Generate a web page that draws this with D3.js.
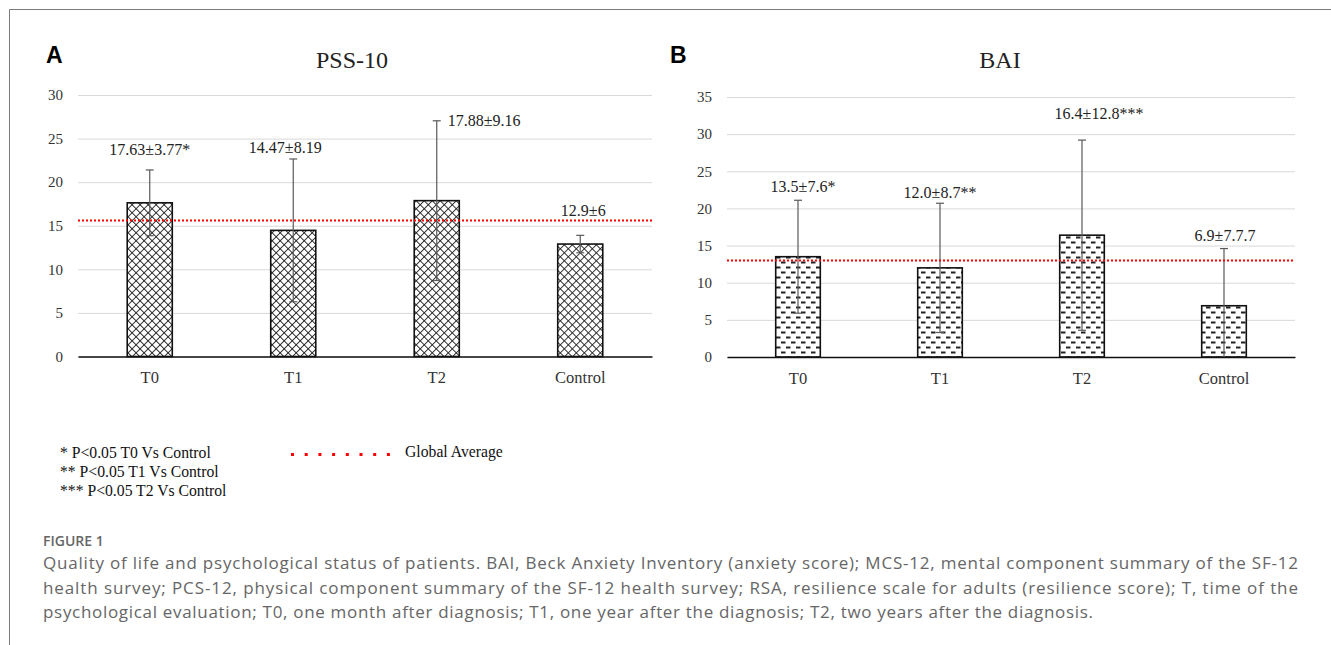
<!DOCTYPE html>
<html>
<head>
<meta charset="utf-8">
<script src="https://cdn.jsdelivr.net/npm/d3@7"></script>
<style>
  body { margin: 0; background: #fff; }
  svg { display: block; }
</style>
</head>
<body>
<svg id="fig" width="1331" height="645"></svg>
<script>
// données
var categories = ["T0", "T1", "T2", "Control"];

var pssMeans  = [17.63, 14.47, 17.88, 12.9];
var pssErrors = [3.77, 8.19, 9.16, 1.0];
var pssLabels = ["17.63±3.77*", "14.47±8.19", "17.88±9.16", "12.9±6"];
var pssAverage = 15.6;
var pssTicks = [0, 5, 10, 15, 20, 25, 30];

var baiMeans  = [13.5, 12.0, 16.4, 6.9];
var baiErrors = [7.6, 8.7, 12.8, 7.7];
var baiLabels = ["13.5±7.6*", "12.0±8.7**", "16.4±12.8***", "6.9±7.7.7"];
var baiAverage = 13.0;
var baiTicks = [0, 5, 10, 15, 20, 25, 30, 35];

var legendNotes = ["* P<0.05 T0 Vs Control", "** P<0.05 T1 Vs Control", "*** P<0.05 T2 Vs Control"];

var captionLines = [
  "Quality of life and psychological status of patients. BAI, Beck Anxiety Inventory (anxiety score); MCS-12, mental component summary of the SF-12",
  "health survey; PCS-12, physical component summary of the SF-12 health survey; RSA, resilience scale for adults (resilience score); T, time of the",
  "psychological evaluation; T0, one month after diagnosis; T1, one year after the diagnosis; T2, two years after the diagnosis."
];
var captionWidths = [1255, 1255, 1050];

var serif = "'Liberation Serif', 'Times New Roman', serif";
var svg = d3.select("#fig");

// cadre de la figure (haut + gauche)
svg.append("path")
  .attr("d", "M9.5,645 L9.5,9.5 L1331,9.5")
  .attr("fill", "none")
  .attr("stroke", "#7a7a7a")
  .attr("stroke-width", 1);

// motifs de remplissage
var defs = svg.append("defs");
var cross = defs.append("pattern")
  .attr("id", "crosshatch")
  .attr("patternUnits", "userSpaceOnUse")
  .attr("width", 5.66).attr("height", 5.66)
  .attr("patternTransform", "rotate(45)");
cross.append("rect").attr("width", 5.66).attr("height", 5.66).attr("fill", "#fff");
cross.append("path")
  .attr("d", "M0,0 L0,5.66 M0,0 L5.66,0")
  .attr("stroke", "#222").attr("stroke-width", 1.7);

var dash = defs.append("pattern")
  .attr("id", "dashes")
  .attr("patternUnits", "userSpaceOnUse")
  .attr("width", 10).attr("height", 10);
dash.append("rect").attr("width", 10).attr("height", 10).attr("fill", "#fff");
dash.append("rect").attr("x", 1).attr("y", 1.5).attr("width", 4.5).attr("height", 2).attr("fill", "#222");
dash.append("rect").attr("x", 6).attr("y", 6.5).attr("width", 4.5).attr("height", 2).attr("fill", "#222");
dash.append("rect").attr("x", -4).attr("y", 6.5).attr("width", 4.5).attr("height", 2).attr("fill", "#222");

function drawPanel(p) {
  var g = svg.append("g");

  var xScale = d3.scaleBand().domain(categories).range([p.left, p.right])
    .paddingInner(0.686).paddingOuter(0.343);
  var yScale = d3.scaleLinear().domain([0, d3.max(p.ticks)]).range([p.bottom, p.top]);

  // lettre du panneau et titre
  g.append("text")
    .attr("x", p.letterX).attr("y", 63)
    .style("font-family", "'Liberation Sans', Arial, sans-serif")
    .style("font-weight", "bold").style("font-size", "23px")
    .text(p.letter);
  g.append("text")
    .attr("x", (p.left + p.right) / 2 + p.titleDx).attr("y", 68)
    .attr("text-anchor", "middle")
    .style("font-family", serif).style("font-size", "24px").style("fill", "#222")
    .text(p.title);

  // axe des ordonnées + grille
  var yAxis = g.append("g")
    .attr("transform", "translate(" + p.left + ",0)")
    .call(d3.axisLeft(yScale).tickValues(p.ticks).tickSize(-(p.right - p.left)).tickPadding(15));
  yAxis.select(".domain").remove();
  yAxis.selectAll(".tick line").attr("stroke", "#d9d9d9").attr("stroke-width", 1);
  yAxis.selectAll(".tick text")
    .style("font-family", serif).style("font-size", "15px").style("fill", "#333");

  // barres
  g.selectAll("rect.bar")
    .data(p.means)
    .enter().append("rect")
    .attr("class", "bar")
    .attr("x", function (d, i) { return xScale(categories[i]); })
    .attr("y", function (d) { return yScale(d); })
    .attr("width", xScale.bandwidth())
    .attr("height", function (d) { return yScale(0) - yScale(d); })
    .attr("fill", "url(#" + p.pattern + ")")
    .attr("stroke", "#111").attr("stroke-width", 1.6);

  // axe des abscisses
  var xAxis = g.append("g")
    .attr("transform", "translate(0," + p.bottom + ")")
    .call(d3.axisBottom(xScale).tickSize(0).tickPadding(15));
  xAxis.select(".domain").attr("stroke", "#111").attr("stroke-width", 1.6);
  xAxis.selectAll(".tick text")
    .style("font-family", serif).style("font-size", "16.5px").style("fill", "#333");

  // barres d'erreur
  var eb = g.selectAll("g.err")
    .data(p.means)
    .enter().append("g")
    .attr("class", "err")
    .attr("stroke", "#595959").attr("stroke-width", 1.2);
  eb.each(function (d, i) {
    var cx = xScale(categories[i]) + xScale.bandwidth() / 2;
    var hi = d + p.errors[i], lo = Math.max(0, d - p.errors[i]);
    var e = d3.select(this);
    e.append("line").attr("x1", cx).attr("x2", cx).attr("y1", yScale(hi)).attr("y2", yScale(lo));
    e.append("line").attr("x1", cx - 4).attr("x2", cx + 4).attr("y1", yScale(hi)).attr("y2", yScale(hi));
    if (lo > 0) {
      e.append("line").attr("x1", cx - 4).attr("x2", cx + 4).attr("y1", yScale(lo)).attr("y2", yScale(lo));
    }
  });

  // moyenne globale
  g.append("line")
    .attr("x1", p.left).attr("x2", p.right)
    .attr("y1", yScale(p.average)).attr("y2", yScale(p.average))
    .attr("stroke", "#ff0000").attr("stroke-width", 2)
    .attr("stroke-dasharray", "2,2");

  // étiquettes des valeurs
  g.selectAll("text.lab")
    .data(p.labels)
    .enter().append("text")
    .attr("class", "lab")
    .attr("x", function (d, i) {
      var cx = xScale(categories[i]) + xScale.bandwidth() / 2;
      return p.labelSide[i] ? cx + 11 : cx + p.labelDx[i];
    })
    .attr("y", function (d, i) {
      var cy = yScale(p.means[i] + p.errors[i]);
      return p.labelSide[i] ? cy + 5 : cy - p.labelGap[i] + 5;
    })
    .attr("text-anchor", function (d, i) { return p.labelSide[i] ? "start" : "middle"; })
    .style("font-family", serif).style("font-size", "16px").style("fill", "#222")
    .text(function (d) { return d; });
}

drawPanel({
  letter: "A", letterX: 46, title: "PSS-10", titleDx: -13,
  left: 78, right: 652, top: 95, bottom: 356.5,
  ticks: pssTicks, means: pssMeans, errors: pssErrors, labels: pssLabels,
  average: pssAverage, pattern: "crosshatch",
  labelGap: [20, 11, 0, 24], labelDx: [0, -8, 0, 3], labelSide: [false, false, true, false]
});

drawPanel({
  letter: "B", letterX: 670, title: "BAI", titleDx: -11,
  left: 727, right: 1295, top: 97, bottom: 357,
  ticks: baiTicks, means: baiMeans, errors: baiErrors, labels: baiLabels,
  average: baiAverage, pattern: "dashes",
  labelGap: [13, 10, 26, 13], labelDx: [5, 0, 17, 1], labelSide: [false, false, false, false]
});

// légende
svg.selectAll("text.note")
  .data(legendNotes)
  .enter().append("text")
  .attr("class", "note")
  .attr("x", 60)
  .attr("y", function (d, i) { return 458 + i * 19; })
  .style("font-family", serif).style("font-size", "15.7px").style("fill", "#111")
  .text(function (d) { return d; });

svg.append("line")
  .attr("x1", 291).attr("x2", 390).attr("y1", 454.5).attr("y2", 454.5)
  .attr("stroke", "#ff0000").attr("stroke-width", 3)
  .attr("stroke-dasharray", "3,10.7");
svg.append("text")
  .attr("x", 405).attr("y", 457)
  .style("font-family", serif).style("font-size", "15.7px").style("fill", "#111")
  .text("Global Average");

// légende de la figure
svg.append("text")
  .attr("x", 43).attr("y", 546)
  .style("font-family", "'Open Sans', sans-serif").style("font-weight", 600)
  .style("font-size", "14px").style("fill", "#666")
  .text("FIGURE 1");

svg.selectAll("text.cap")
  .data(captionLines)
  .enter().append("text")
  .attr("class", "cap")
  .attr("x", 43)
  .attr("y", function (d, i) { return 569 + i * 24.5; })
  .attr("textLength", function (d, i) { return captionWidths[i]; })
  .attr("lengthAdjust", "spacing")
  .style("font-family", "'Open Sans', sans-serif").style("font-size", "17px").style("fill", "#666")
  .text(function (d) { return d; });
</script>
</body>
</html>
